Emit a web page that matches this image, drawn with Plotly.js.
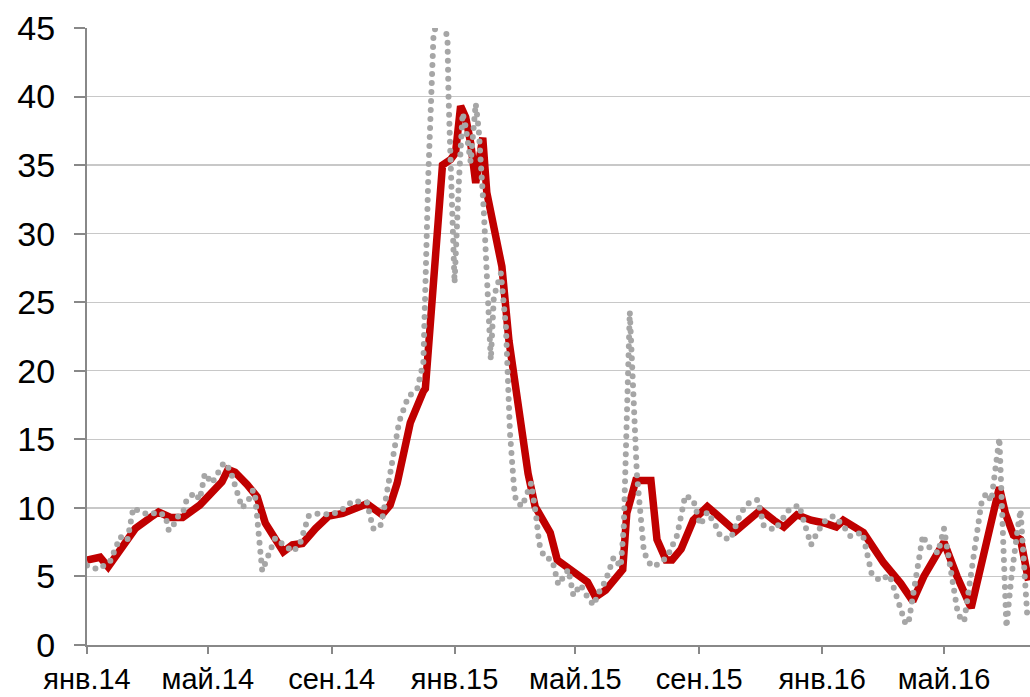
<!DOCTYPE html>
<html>
<head>
<meta charset="utf-8">
<script src="https://cdn.plot.ly/plotly-3.0.1.min.js"></script>
<style>
  html, body { margin: 0; padding: 0; background: #fff; }
  #chart { width: 1030px; height: 697px; }
  .dotted-trace path.js-line { stroke-linecap: round !important; }
</style>
</head>
<body>
<div id="chart"></div>
<script>
// Smoothed series (red solid)
const redDates = [
  '2014-01-01','2014-01-14','2014-01-22','2014-02-08','2014-02-18','2014-03-05','2014-03-13','2014-03-25',
  '2014-04-06','2014-04-23','2014-05-06','2014-05-15','2014-05-21','2014-05-28','2014-06-09','2014-06-19',
  '2014-06-27','2014-07-07','2014-07-15','2014-07-24','2014-08-03','2014-08-16','2014-08-29','2014-09-12',
  '2014-09-26','2014-10-06','2014-10-21','2014-10-29','2014-11-05','2014-11-13','2014-11-18','2014-12-01',
  '2014-12-03','2014-12-20','2014-12-28','2015-01-02','2015-01-07','2015-01-12','2015-01-17','2015-01-22',
  '2015-01-25','2015-01-29','2015-02-02','2015-02-09','2015-02-17','2015-02-24','2015-02-27','2015-03-07',
  '2015-03-15','2015-03-22','2015-04-06','2015-04-13','2015-04-26','2015-05-13','2015-05-21','2015-05-31',
  '2015-06-17','2015-06-21','2015-06-30','2015-07-15','2015-07-21','2015-07-30','2015-08-05','2015-08-14',
  '2015-08-26','2015-09-09','2015-09-20','2015-10-07','2015-10-20','2015-11-01','2015-11-14','2015-11-24',
  '2015-12-07','2015-12-21','2016-01-03','2016-01-15','2016-01-22','2016-02-05','2016-02-11','2016-03-02',
  '2016-03-19','2016-03-31','2016-04-11','2016-05-01','2016-05-14','2016-05-28','2016-06-10','2016-06-25',
  '2016-07-01','2016-07-09','2016-07-16','2016-07-24'
];
const redValues = [
  6.2, 6.4, 5.7, 7.5, 8.5, 9.3, 9.7, 9.3,
  9.3, 10.2, 11.3, 11.9, 12.8, 12.6, 11.7, 10.8,
  8.9, 7.8, 6.8, 7.3, 7.4, 8.5, 9.4, 9.6,
  10.0, 10.3, 9.5, 10.2, 11.8, 14.7, 16.2, 18.5,
  18.7, 35.0, 35.4, 35.9, 39.3, 38.5, 36.6, 33.7,
  35.4, 37.0, 33.0, 30.5, 27.6, 22.2, 20.6, 16.6,
  12.5, 10.1, 8.2, 6.2, 5.5, 4.6, 3.5, 4.0,
  5.5, 9.6, 12.0, 12.0, 7.7, 6.2, 6.2, 7.0,
  9.1, 10.1, 9.4, 8.3, 9.1, 9.85, 9.1, 8.6,
  9.5, 9.1, 8.9, 8.6, 9.1, 8.4, 8.2, 6.0,
  4.5, 3.2, 5.0, 7.5, 5.0, 2.7, 6.9, 11.5,
  9.6, 8.0, 7.7, 4.7
];

// Raw series (grey dotted)
const greyDates = [
  '2014-01-01','2014-01-12','2014-01-24','2014-02-03','2014-02-10','2014-02-16','2014-02-21','2014-03-03',
  '2014-03-13','2014-03-20','2014-03-23','2014-03-26','2014-03-31','2014-04-06','2014-04-10','2014-04-18',
  '2014-04-23','2014-04-28','2014-05-05','2014-05-10','2014-05-17','2014-05-23','2014-05-31','2014-06-04',
  '2014-06-10','2014-06-15','2014-06-17','2014-06-24','2014-07-02','2014-07-07','2014-07-15','2014-07-25',
  '2014-08-01','2014-08-09','2014-08-19','2014-08-31','2014-09-11','2014-09-22','2014-10-06','2014-10-12',
  '2014-10-19','2014-10-22','2014-11-07','2014-11-16','2014-11-25','2014-12-01','2014-12-06','2014-12-11',
  '2014-12-18','2014-12-25','2014-12-26','2014-12-28','2014-12-30','2015-01-01','2015-01-05','2015-01-09',
  '2015-01-12','2015-01-17','2015-01-22','2015-01-25','2015-01-30','2015-02-02','2015-02-06','2015-02-09',
  '2015-02-16','2015-02-21','2015-02-25','2015-03-01','2015-03-03','2015-03-09','2015-03-18','2015-03-23',
  '2015-03-26','2015-03-31','2015-04-08','2015-04-14','2015-04-19','2015-04-24','2015-04-29','2015-05-06',
  '2015-05-13','2015-05-19','2015-05-24','2015-05-31','2015-06-08','2015-06-15','2015-06-18','2015-06-24',
  '2015-07-01','2015-07-08','2015-07-13','2015-07-18','2015-07-31','2015-08-10','2015-08-18','2015-08-26',
  '2015-09-02','2015-09-09','2015-09-17','2015-09-22','2015-10-02','2015-10-12','2015-10-19','2015-10-29',
  '2015-11-04','2015-11-15','2015-11-29','2015-12-09','2015-12-21','2015-12-27','2016-01-03','2016-01-12',
  '2016-01-21','2016-01-29','2016-02-10','2016-02-19','2016-02-27','2016-03-08','2016-03-24','2016-03-27',
  '2016-04-10','2016-04-15','2016-04-25','2016-05-01','2016-05-15','2016-05-21','2016-06-07','2016-06-12',
  '2016-06-17','2016-06-25','2016-07-02','2016-07-07','2016-07-14','2016-07-16','2016-07-23'
];
const greyValues = [
  5.8, 5.5, 6.1, 7.9, 7.6, 10.0, 9.8, 9.5,
  9.7, 9.4, 8.4, 8.4, 9.3, 9.6, 10.6, 11.1,
  10.6, 12.5, 11.8, 12.5, 13.3, 12.8, 10.9, 10.0,
  10.5, 11.3, 10.8, 5.4, 6.9, 7.8, 7.3, 6.8,
  7.5, 9.4, 9.6, 9.5, 9.85, 10.5, 10.4, 8.5,
  8.6, 9.5, 16.3, 18.1, 18.7, 20.6, 34.4, 44.3,
  47.0, 44.1, 40.0, 36.0, 30.0, 26.4, 33.4, 38.8,
  37.8, 35.2, 39.5, 37.6, 31.7, 25.9, 20.8, 25.4,
  27.1, 23.2, 15.5, 11.5, 10.5, 10.1, 11.8, 9.4,
  7.4, 6.4, 6.2, 4.4, 4.9, 5.5, 3.6, 4.4,
  3.5, 2.9, 3.8, 4.7, 6.4, 5.7, 8.6, 24.3,
  12.5, 6.8, 6.0, 5.7, 6.4, 8.0, 10.9, 10.6,
  8.75, 9.7, 8.75, 7.9, 7.7, 9.6, 10.3, 10.6,
  8.7, 8.4, 9.85, 10.2, 7.3, 8.2, 9.0, 9.4,
  8.8, 7.95, 8.2, 5.25, 4.7, 5.1, 1.5, 1.7,
  8.0, 7.2, 6.7, 8.5, 2.2, 1.7, 10.3, 11.1,
  10.5, 15.1, 1.3, 5.0, 8.9, 9.85, 1.8
];

const tickDates = ['2014-01-01','2014-05-01','2014-09-01','2015-01-01','2015-05-01','2015-09-01','2016-01-01','2016-05-01'];
const tickLabels = ['янв.14','май.14','сен.14','янв.15','май.15','сен.15','янв.16','май.16'];

const family = '"Liberation Sans", Arial, sans-serif';

const traces = [
  {
    x: redDates, y: redValues, type: 'scatter', mode: 'lines',
    line: { color: '#c00000', width: 7.5, shape: 'linear' },
    hoverinfo: 'skip', showlegend: false
  },
  {
    x: greyDates, y: greyValues, type: 'scatter', mode: 'lines',
    line: { color: '#a6a6a6', width: 6, dash: '0px,9px' },
    hoverinfo: 'skip', showlegend: false
  }
];

const layout = {
  width: 1030, height: 697,
  margin: { l: 87, r: 0, t: 28, b: 52, pad: 0 },
  paper_bgcolor: '#fff', plot_bgcolor: '#fff',
  font: { family: family, size: 33, color: '#000' },
  showlegend: false,
  xaxis: {
    type: 'date',
    range: ['2014-01-01', '2016-07-25 10:00'],
    tickvals: tickDates, ticktext: tickLabels,
    showgrid: false, zeroline: false,
    showline: true, linecolor: '#888', linewidth: 2,
    ticks: 'outside', ticklen: 7, tickwidth: 2, tickcolor: '#888',
    tickfont: { family: family, size: 29, color: '#000' }, ticklabelstandoff: 0
  },
  yaxis: {
    range: [0, 45], dtick: 5, tick0: 0,
    showgrid: true, gridcolor: '#c8c8c8', gridwidth: 1.3,
    zeroline: false,
    showline: true, linecolor: '#888', linewidth: 2,
    ticks: 'outside', ticklen: 11, tickwidth: 2, tickcolor: '#888',
    tickfont: { family: family, size: 34, color: '#000' }, ticklabelstandoff: 12
  }
};

Plotly.newPlot('chart', traces, layout, { staticPlot: true, displayModeBar: false }).then(gd => {
  const tr = gd.querySelectorAll('.scatterlayer .trace');
  if (tr[1]) tr[1].classList.add('dotted-trace');
});
</script>
</body>
</html>
